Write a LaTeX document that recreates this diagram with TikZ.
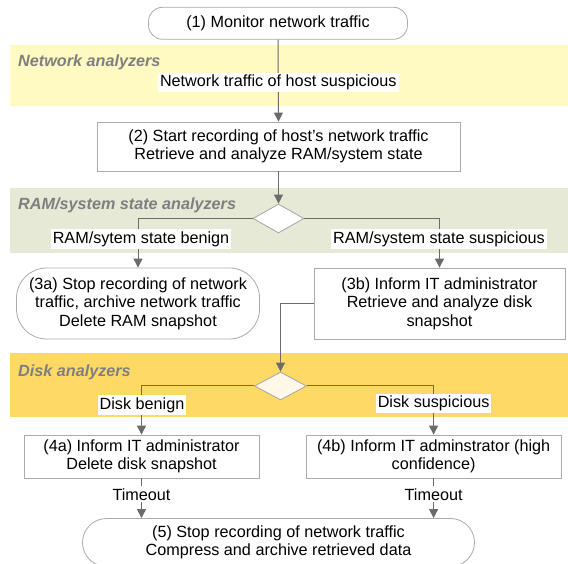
\documentclass[tikz,border=0pt]{standalone}
\usepackage{fontspec}
\setmainfont{Liberation Sans}
\usetikzlibrary{arrows.meta,shapes.geometric,calc}
\definecolor{bandA}{HTML}{FFF9C2}
\definecolor{bandB}{HTML}{E6E9D6}
\definecolor{bandC}{HTML}{FFD966}
\definecolor{boxgray}{HTML}{ABABAB}
\definecolor{linegray}{HTML}{6B6B6B}
\definecolor{titlegray}{HTML}{7F7F7F}
\definecolor{diafill}{HTML}{FFF8E8}
\begin{document}
\begin{tikzpicture}[x=1pt,y=1pt,
  txt/.style={font=\fontsize{16.2}{18.5}\selectfont, align=center, text=black},
  boxnode/.style={txt, draw=boxgray, line width=0.8pt, fill=white, inner sep=0pt},
  roundnode/.style={boxnode, rounded corners=#1},
  dia/.style={diamond, draw=boxgray, line width=0.9pt, inner sep=0pt},
  lbl/.style={txt, fill=white, inner sep=2pt},
  bandtitle/.style={font=\fontsize{16.2}{18.5}\selectfont\bfseries\itshape, text=titlegray, inner sep=0pt, anchor=west},
  conn/.style={draw=linegray, line width=1pt, -{Triangle[width=9pt,length=9pt]}}
]
\useasboundingbox (0,0) rectangle (568,563);
\clip (0,0) rectangle (568,563);
% bands
\fill[bandA] (10,457) rectangle (568,518);
\fill[bandB] (10,310) rectangle (568,375);
\fill[bandC] (10,146) rectangle (568,210);
\node[bandtitle] (t1) at (18,501) {Network analyzers};
\node[bandtitle] (t2) at (18,358) {RAM/system state analyzers};
\node[bandtitle] (t3) at (18,191) {Disk analyzers};
% nodes
\node[roundnode=14pt, minimum width=259pt, minimum height=32pt] (n1) at (278,539.7) {(1) Monitor network traffic};
\node[boxnode, minimum width=363pt, minimum height=49pt] (n2) at (278.5,416.5) {(2) Start recording of host's network traffic\\Retrieve and analyze RAM/system state};
\node[dia, fill=white, minimum width=51pt, minimum height=29pt] (d1) at (278.5,344.5) {};
\node[roundnode=30pt, minimum width=243pt, minimum height=71pt] (a3) at (138,259.5) {(3a) Stop recording of network\\traffic, archive network traffic\\Delete RAM snapshot};
\node[boxnode, minimum width=251pt, minimum height=71pt] (b3) at (439.5,259.5) {(3b) Inform IT administrator\\Retrieve and analyze disk\\snapshot};
\node[dia, fill=diafill, minimum width=52pt, minimum height=28pt] (d2) at (280.5,177) {};
\node[boxnode, minimum width=235pt, minimum height=43pt] (a4) at (141.5,106.5) {(4a) Inform IT administrator\\Delete disk snapshot};
\node[boxnode, minimum width=255pt, minimum height=43pt] (b4) at (433.6,106.5) {(4b) Inform IT adminstrator (high\\confidence)};
\node[roundnode=24pt, minimum width=392pt, minimum height=48pt] (c5) at (278.5,20.5) {(5) Stop recording of network traffic\\Compress and archive retrieved data};
% connectors
\draw[conn] (n1.south) -- node[lbl, pos=0.52] (l1) {Network traffic of host suspicious} (n2.north);
\draw[conn] (n2.south) -- (d1.north);
\draw[conn] (d1.west) -| (a3.north);
\draw[conn] (d1.east) -| (b3.north);
\node[lbl] (l2) at (141,324) {RAM/sytem state benign};
\node[lbl] (l3) at (439,324) {RAM/system state suspicious};
\draw[conn] (b3.west) -| (d2.north);
\draw[conn] (d2.west) -| (a4.north);
\draw[conn] (d2.east) -| (b4.north);
\node[lbl] (l4) at (142,158) {Disk benign};
\node[lbl] (l5) at (433.6,159.5) {Disk suspicious};
\draw[conn] (a4.south) -- node[lbl, pos=0.4] (l6) {Timeout} (a4.south |- c5.north);
\draw[conn] (b4.south) -- node[lbl, pos=0.4] (l7) {Timeout} (b4.south |- c5.north);
\end{tikzpicture}
\end{document}
